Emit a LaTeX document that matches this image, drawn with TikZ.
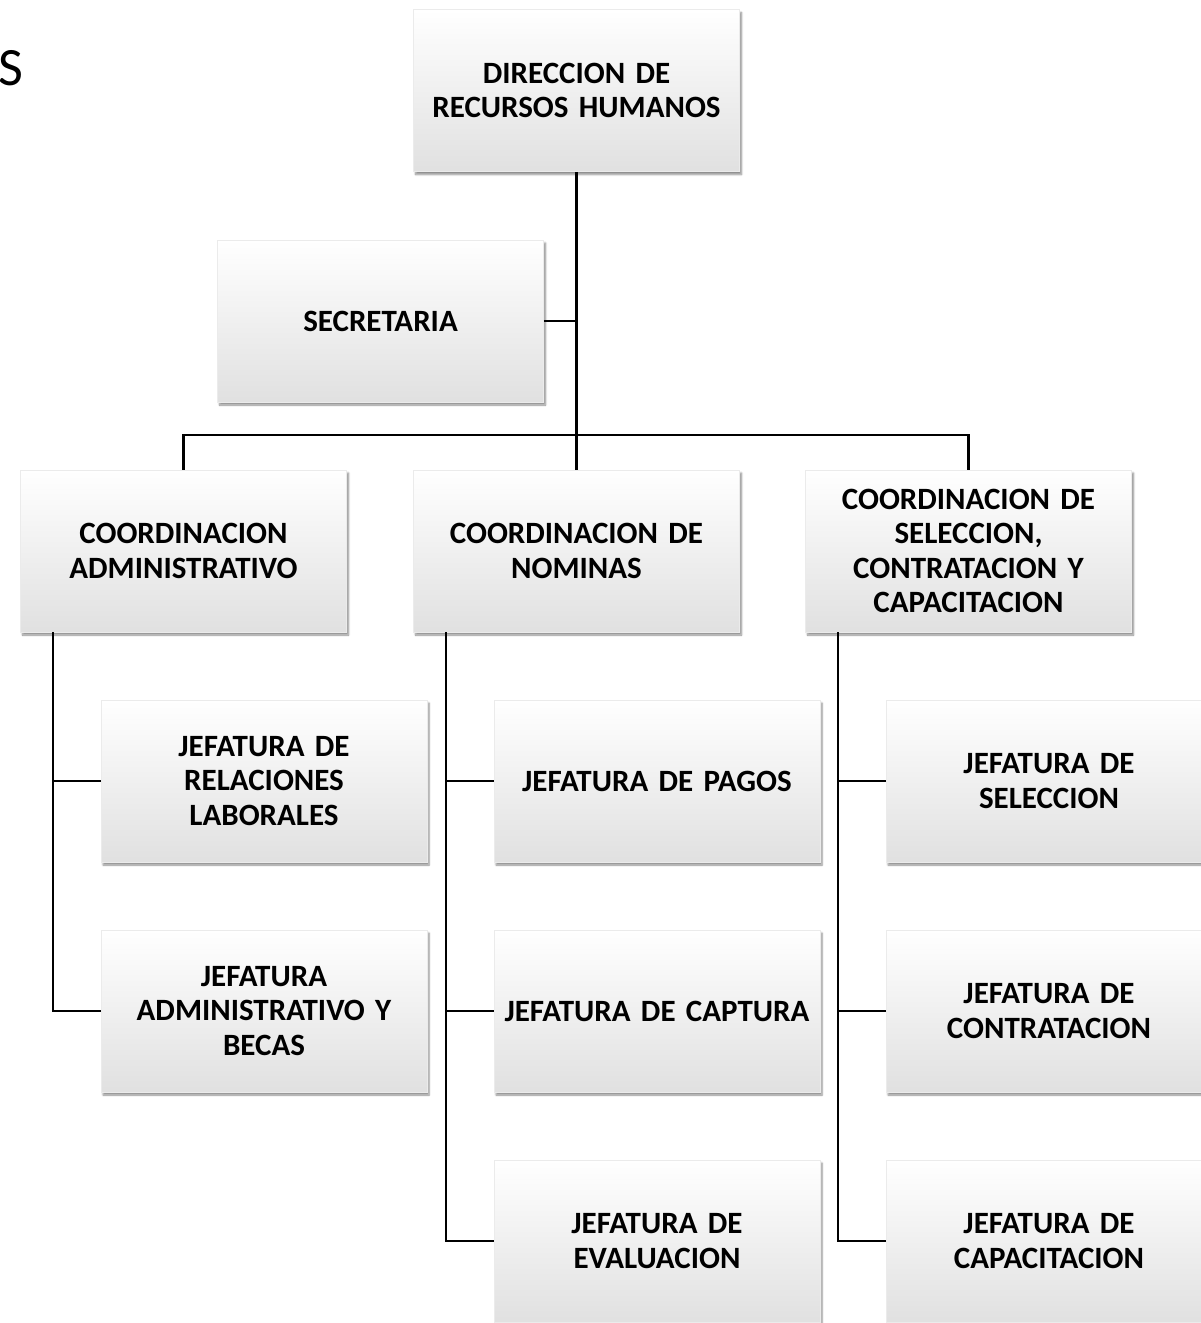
\documentclass[tikz,border=0pt]{standalone}
\usepackage{fontspec}
\setmainfont{Carlito}
\usetikzlibrary{shadows.blur,calc}
\begin{document}
\begin{tikzpicture}[x=1pt,y=-1pt,
  box/.style={minimum width=326pt,minimum height=162pt,inner sep=0pt,
    text width=322pt,align=center,
    font=\fontsize{31}{34.5}\selectfont\bfseries,
    shading=axis,top color=white,middle color=white,bottom color=black!12,
    draw=black!8,line width=0.6pt,
    blur shadow={shadow xshift=2pt,shadow yshift=-3pt,shadow blur steps=6,shadow opacity=45}},
  conn/.style={draw=black,line width=2.2pt}]
\useasboundingbox (0,0) rectangle (1201,1323);
\clip (0,0) rectangle (1201,1323);
\node[anchor=base west,inner sep=0pt,font=\fontsize{54}{60}\selectfont] (ttl) at (-2,85) {S};
\node[box] (dir) at (576.5,90.5) {DIRECCION DE\\RECURSOS HUMANOS};
\node[box] (sec) at (380.5,321) {SECRETARIA};
\node[box] (cadm) at (183.5,551) {COORDINACION\\ADMINISTRATIVO};
\node[box] (cnom) at (576.5,551) {COORDINACION DE\\NOMINAS};
\node[box] (csel) at (968.5,551) {COORDINACION DE\\SELECCION,\\CONTRATACION Y\\CAPACITACION};
\node[box] (jrel) at (264,781) {JEFATURA DE\\RELACIONES\\LABORALES};
\node[box] (jadm) at (264,1011) {JEFATURA\\ADMINISTRATIVO Y\\BECAS};
\node[box] (jpag) at (657,781) {JEFATURA DE PAGOS};
\node[box] (jcap) at (657,1011) {JEFATURA DE CAPTURA};
\node[box] (jeva) at (657,1241) {JEFATURA DE\\EVALUACION};
\node[box] (jsel) at (1049,781) {JEFATURA DE\\SELECCION};
\node[box] (jcon) at (1049,1011) {JEFATURA DE\\CONTRATACION};
\node[box] (jcpt) at (1049,1241) {JEFATURA DE\\CAPACITACION};
% top connectors
\coordinate (hub) at (576.5,435);
\draw[conn] (dir.south) -- (hub);
\draw[conn] (sec.east) -- (sec.east -| dir.south);
\draw[conn] (cadm.north) |- (hub) -| (csel.north);
\draw[conn] (hub) -- (cnom.north);
% left branch
\coordinate (ax) at ($(cadm.south west)+(33,0)$);
\draw[conn] (ax) |- (jadm.west);
\draw[conn] (ax |- jrel.west) -- (jrel.west);
% middle branch
\coordinate (bx) at ($(cnom.south west)+(33,0)$);
\draw[conn] (bx) |- (jeva.west);
\draw[conn] (bx |- jpag.west) -- (jpag.west);
\draw[conn] (bx |- jcap.west) -- (jcap.west);
% right branch
\coordinate (cx) at ($(csel.south west)+(33,0)$);
\draw[conn] (cx) |- (jcpt.west);
\draw[conn] (cx |- jsel.west) -- (jsel.west);
\draw[conn] (cx |- jcon.west) -- (jcon.west);
\end{tikzpicture}
\end{document}
